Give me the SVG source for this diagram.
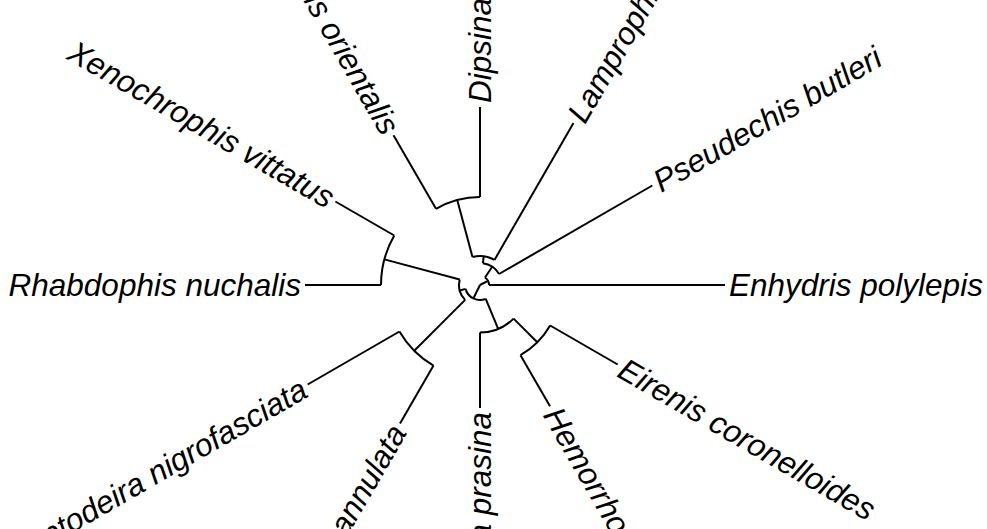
<svg xmlns="http://www.w3.org/2000/svg" width="987" height="529" viewBox="0 0 987 529">
  <style>
    .edge { fill: none; stroke: #000; stroke-width: 2; stroke-linecap: butt; }
    .tip { font-family: "Liberation Sans", Arial, sans-serif; font-style: italic; font-size: 31.5px; fill: #000; }
    .r { text-anchor: start; }
    .l { text-anchor: end; }
  </style>
  <rect width="987" height="529" fill="#fff"/>

  <!-- fan layout, root at (480,285); radius = branch depth, angle = tip order -->
  <g id="edges">
    <!-- root children -->
    <path class="edge" d="M480 285 L487.94 280.76"/>
    <path class="edge" d="M480 285 L473.37 298.45"/>
    <!-- clade C: Enhydris + B -->
    <path class="edge" d="M489 285 A9 9 0 0 0 485.00 277.52"/>
    <path class="edge" d="M489 285 L725 285"/>
    <path class="edge" d="M485.00 277.52 L492.22 266.71"/>
    <!-- clade B: Pseudechis + A -->
    <path class="edge" d="M499.05 274.00 A22 22 0 0 0 482.87 263.19"/>
    <path class="edge" d="M499.05 274.00 L652.33 185.50"/>
    <path class="edge" d="M482.87 263.19 L483.78 256.25"/>
    <!-- clade A: Lamprophis + N1 -->
    <path class="edge" d="M494.50 259.89 A29 29 0 0 0 472.49 256.99"/>
    <path class="edge" d="M494.50 259.89 L573.50 123.06"/>
    <path class="edge" d="M472.49 256.99 L457.23 200.00"/>
    <!-- clade N1: Dipsina + Psammophis -->
    <path class="edge" d="M480 197 A88 88 0 0 0 436 208.79"/>
    <path class="edge" d="M480 197 L480 107"/>
    <path class="edge" d="M436 208.79 L393.50 135.18"/>
    <!-- clade J: I + E -->
    <path class="edge" d="M465.51 288.88 A15 15 0 0 0 485.74 298.86"/>
    <path class="edge" d="M465.51 288.88 L459.72 290.43"/>
    <!-- clade I: G + F -->
    <path class="edge" d="M459.72 279.57 A21 21 0 0 0 465.15 299.85"/>
    <path class="edge" d="M459.72 279.57 L384.38 259.38"/>
    <!-- clade G: Xenochrophis + Rhabdophis -->
    <path class="edge" d="M394.26 235.50 A99 99 0 0 0 381 285"/>
    <path class="edge" d="M394.26 235.50 L335.38 201.50"/>
    <path class="edge" d="M381 285 L305 285"/>
    <!-- clade F: Leptodeira pair -->
    <path class="edge" d="M465.15 299.85 L414.24 350.76"/>
    <path class="edge" d="M399.46 331.50 A93 93 0 0 0 433.50 365.54"/>
    <path class="edge" d="M399.46 331.50 L307.67 384.50"/>
    <path class="edge" d="M433.50 365.54 L400 423.56"/>
    <!-- clade E: Ahaetulla + D -->
    <path class="edge" d="M485.74 298.86 L498.18 328.89"/>
    <path class="edge" d="M480 332.5 A47.5 47.5 0 0 0 513.59 318.59"/>
    <path class="edge" d="M480 332.5 L480 408"/>
    <path class="edge" d="M513.59 318.59 L537.28 342.28"/>
    <!-- clade D: Hemorrhois + Eirenis -->
    <path class="edge" d="M520.50 355.15 A81 81 0 0 0 550.15 325.50"/>
    <path class="edge" d="M520.50 355.15 L550 406.24"/>
    <path class="edge" d="M550.15 325.50 L617.70 364.50"/>
  </g>

  <g id="tip-enhydris"><text class="tip r" dy="0.35em" transform="translate(729,285)">Enhydris polylepis</text></g>
  <g id="tip-pseudechis"><text class="tip r" dy="0.35em" transform="translate(655.8,183.5) rotate(-30)">Pseudechis butleri</text></g>
  <g id="tip-lamprophis"><text class="tip r" dy="0.35em" transform="translate(575.5,119.6) rotate(-60)">Lamprophis aurora</text></g>
  <g id="tip-dipsina"><text class="tip r" dy="0.35em" transform="translate(480,103) rotate(-90)">Dipsina multimaculata</text></g>
  <g id="tip-psammophis"><text class="tip l" dy="0.35em" transform="translate(391.5,131.7) rotate(60)">Psammophis orientalis</text></g>
  <g id="tip-xenochrophis"><text class="tip l" dy="0.35em" transform="translate(331.9,199.5) rotate(30)">Xenochrophis vittatus</text></g>
  <g id="tip-rhabdophis"><text class="tip l" dy="0.35em" transform="translate(301,285)">Rhabdophis nuchalis</text></g>
  <g id="tip-leptodeira-n"><text class="tip l" dy="0.35em" transform="translate(304.2,386.5) rotate(-30)">Leptodeira nigrofasciata</text></g>
  <g id="tip-leptodeira-a"><text class="tip l" dy="0.35em" transform="translate(398,427) rotate(-60)">Leptodeira annulata</text></g>
  <g id="tip-ahaetulla"><text class="tip l" dy="0.35em" transform="translate(480,412) rotate(-90)">Ahaetulla prasina</text></g>
  <g id="tip-hemorrhois"><text class="tip r" dy="0.35em" transform="translate(552,409.7) rotate(60)">Hemorrhois hippocrepis</text></g>
  <g id="tip-eirenis"><text class="tip r" dy="0.35em" transform="translate(621.2,366.5) rotate(30)">Eirenis coronelloides</text></g>
</svg>
